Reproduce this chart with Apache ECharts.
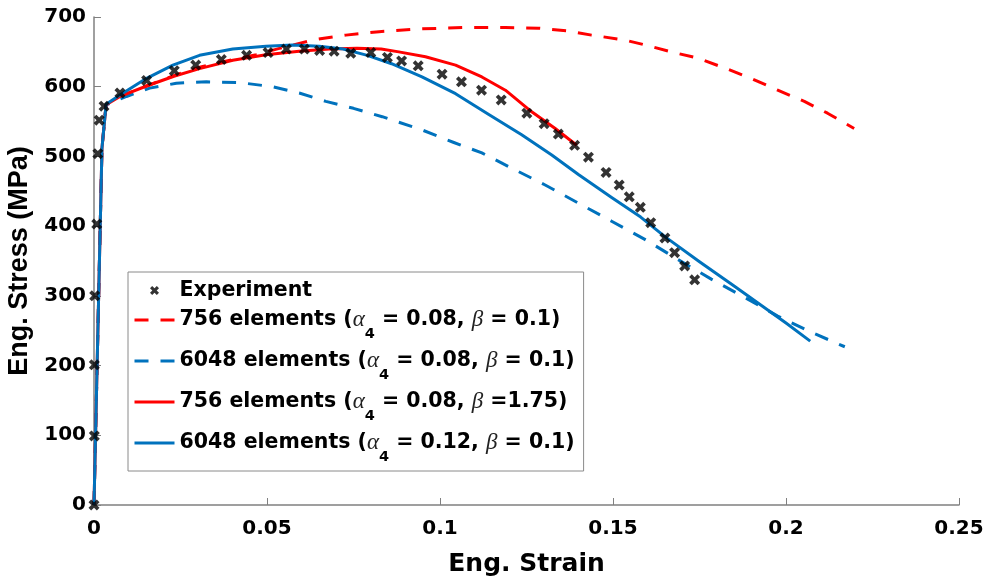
<!DOCTYPE html>
<html>
<head>
<meta charset="utf-8">
<script src="https://cdn.jsdelivr.net/npm/echarts@6/dist/echarts.min.js"></script>
<style>
  html, body { margin: 0; padding: 0; background: #fff; }
  #chart { width: 987px; height: 578px; }
</style>
</head>
<body>
<div id="chart"></div>
<script>
// Tensile test: engineering stress vs engineering strain, experiment vs FE meshes
const xTicks = [0, 0.05, 0.1, 0.15, 0.2, 0.25];
const yTicks = [0, 100, 200, 300, 400, 500, 600, 700];

const seriesNames = [
  'Experiment',
  '756 elements (α4 = 0.08, β = 0.1)',
  '6048 elements (α4 = 0.08, β = 0.1)',
  '756 elements (α4 = 0.08, β =1.75)',
  '6048 elements (α4 = 0.12, β = 0.1)'
];

// Experimental points
const expStrain = [0, 0.0001, 0.0001, 0.0002, 0.0008, 0.0011, 0.0015, 0.0029, 0.0075, 0.0152,
  0.0232, 0.0294, 0.0368, 0.0441, 0.0503, 0.0556, 0.0608, 0.0652, 0.0694, 0.0742,
  0.0800, 0.0848, 0.0889, 0.0937, 0.1006, 0.1062, 0.1120, 0.1177, 0.1251, 0.1301,
  0.1342, 0.1389, 0.1429, 0.1480, 0.1518, 0.1547, 0.1579, 0.1609, 0.1650, 0.1678,
  0.1707, 0.1736];
const expStress = [0, 99, 201, 300, 403, 504, 552, 572, 591, 609,
  623, 631, 639, 645, 649, 654, 654, 652, 651, 648,
  649, 642, 637, 630, 618, 607, 595, 581, 562, 547,
  532, 516, 499, 477, 459, 442, 427, 405, 383, 362,
  343, 323];

// 756 elements, alpha4 = 0.08, beta = 0.1 (dashed red)
const coarseLowBetaStrain = [0, 0.0023, 0.0035, 0.0075, 0.0152, 0.0231, 0.0305, 0.0401, 0.0469, 0.0536,
  0.0632, 0.0728, 0.0824, 0.0948, 0.1073, 0.1189, 0.1285, 0.1371, 0.1438, 0.1534,
  0.1592, 0.1668, 0.1745, 0.1822, 0.1899, 0.1976, 0.2053, 0.2120, 0.2197];
const coarseLowBetaStress = [0, 512, 574, 586, 601, 616, 628, 639, 646, 655,
  667, 674, 679, 683, 685, 685, 684, 680, 674, 667,
  660, 650, 641, 627, 612, 595, 579, 562, 540];

// 6048 elements, alpha4 = 0.08, beta = 0.1 (dashed blue)
const fineLowAlphaStrain = [0, 0.0023, 0.0035, 0.0094, 0.0161, 0.0238, 0.0325, 0.0420, 0.0516, 0.0593,
  0.0670, 0.0750, 0.0833, 0.0948, 0.1040, 0.1121, 0.1208, 0.1304, 0.1400, 0.1496,
  0.1592, 0.1688, 0.1784, 0.1880, 0.1976, 0.2072, 0.2170];
const fineLowAlphaStress = [0, 512, 574, 586, 598, 605, 607, 606, 600, 591,
  579, 569, 557, 538, 520, 505, 483, 459, 433, 407,
  381, 352, 324, 298, 271, 248, 227];

// 756 elements, alpha4 = 0.08, beta = 1.75 (solid red)
const coarseHighBetaStrain = [0, 0.0023, 0.0035, 0.0075, 0.0152, 0.0231, 0.0305, 0.0401, 0.0497, 0.0593,
  0.0680, 0.0760, 0.0830, 0.0881, 0.0958, 0.1045, 0.1121, 0.1189, 0.1265, 0.1333,
  0.1395];
const coarseHighBetaStress = [0, 512, 574, 586, 601, 615, 626, 638, 646, 651,
  654, 655, 654, 650, 643, 631, 614, 595, 564, 540,
  516];

// 6048 elements, alpha4 = 0.12, beta = 0.1 (solid blue)
const fineHighAlphaStrain = [0, 0.0023, 0.0035, 0.0075, 0.0152, 0.0228, 0.0305, 0.0401, 0.0497, 0.0574,
  0.0651, 0.0720, 0.0790, 0.0860, 0.0948, 0.1045, 0.1141, 0.1236, 0.1323, 0.1400,
  0.1496, 0.1580, 0.1650, 0.1750, 0.1850, 0.1924, 0.2000, 0.2070];
const fineHighAlphaStress = [0, 512, 575, 588, 612, 631, 645, 654, 658, 660,
  658, 654, 645, 633, 614, 590, 560, 531, 502, 474,
  441, 413, 385, 349, 314, 288, 261, 235];

const RED = '#FF0000';
const BLUE = '#0072BD';
const DASH = [14, 12];
const CROSS = 'path://M0,2.4 L2.4,0 L5,2.6 L7.6,0 L10,2.4 L7.4,5 L10,7.6 L7.6,10 L5,7.4 L2.4,10 L0,7.6 L2.6,5 Z';

const pairs = (xs, ys) => xs.map((x, i) => [x, ys[i]]);

function lineSeries(name, xs, ys, color, dashed) {
  return {
    name: name,
    type: 'line',
    data: pairs(xs, ys),
    symbol: 'none',
    showSymbol: false,
    smooth: false,
    lineStyle: { color: color, width: 3, type: dashed ? DASH : 'solid', cap: 'butt', join: 'round' },
    itemStyle: { color: color },
    z: 2
  };
}

// Legend entries: Greek symbols in italic serif, the "4" as a lowered subscript
function legendLabel(name) {
  const m = name.match(/^(.*\()α4(.*, )β(.*)$/);
  if (!m) return '{e|' + name + '}';
  return '{b|' + m[1] + '}{g|α}{s|4}{b|' + m[2] + '}{g|β}{b|' + m[3] + '}';
}

// Line entries show only their stroke in the legend, no marker
const legendData = seriesNames.map((n, i) =>
  i === 0 ? { name: n } : { name: n, itemStyle: { opacity: 0, borderWidth: 0 } });

const labelFont = 'DejaVu Sans';
const chart = echarts.init(document.getElementById('chart'), null, { renderer: 'canvas' });

chart.setOption({
  animation: false,
  backgroundColor: '#fff',
  grid: { left: 94, right: 28, top: 17, bottom: 73, containLabel: false, outerBoundsMode: 'none' },
  xAxis: {
    type: 'value',
    min: xTicks[0],
    max: xTicks[xTicks.length - 1],
    interval: xTicks[1] - xTicks[0],
    name: 'Eng. Strain',
    nameLocation: 'middle',
    nameGap: 47,
    nameTextStyle: { fontFamily: labelFont, fontWeight: 'bold', fontSize: 25, color: '#000' },
    axisLine: { show: true, lineStyle: { color: '#808080', width: 1.5 } },
    axisTick: { show: true, inside: true, length: 7, lineStyle: { color: '#808080', width: 1 } },
    axisLabel: { margin: 14, fontFamily: labelFont, fontWeight: 'bold', fontSize: 20, color: '#000' },
    splitLine: { show: false }
  },
  yAxis: {
    type: 'value',
    min: yTicks[0],
    max: yTicks[yTicks.length - 1],
    interval: yTicks[1] - yTicks[0],
    name: 'Eng. Stress (MPa)',
    nameLocation: 'middle',
    nameGap: 57,
    nameRotate: 90,
    nameTextStyle: { fontFamily: 'Liberation Sans', fontWeight: 'bold', fontSize: 27, color: '#000' },
    axisLine: { show: true, lineStyle: { color: '#808080', width: 1.5 } },
    axisTick: { show: true, inside: true, length: 7, lineStyle: { color: '#808080', width: 1 } },
    axisLabel: { margin: 8, fontFamily: labelFont, fontWeight: 'bold', fontSize: 20, color: '#000' },
    splitLine: { show: false }
  },
  legend: {
    orient: 'vertical',
    left: 128,
    top: 272,
    padding: [8, 9, 6, 5],
    itemWidth: 40,
    itemHeight: 9,
    itemGap: -3,
    borderColor: '#8a8a8a',
    borderWidth: 1,
    backgroundColor: '#fff',
    data: legendData,
    lineStyle: { width: 3 },
    formatter: legendLabel,
    textStyle: {
      fontFamily: labelFont, fontWeight: 'bold', fontSize: 20.5, color: '#000',
      rich: {
        e: { fontFamily: labelFont, fontWeight: 'bold', fontSize: 20.5, lineHeight: 30, color: '#000' },
        b: { fontFamily: labelFont, fontWeight: 'bold', fontSize: 20.5, lineHeight: 43, color: '#000' },
        g: { fontFamily: 'Liberation Serif', fontStyle: 'italic', fontWeight: 'normal', fontSize: 23, lineHeight: 43, color: '#222' },
        s: { fontFamily: labelFont, fontWeight: 'bold', fontSize: 14.5, lineHeight: 14, padding: [29, 0, 0, 0], color: '#000' }
      }
    }
  },
  series: [
    {
      name: seriesNames[0],
      type: 'scatter',
      data: pairs(expStrain, expStress),
      symbol: CROSS,
      symbolSize: 11,
      itemStyle: { color: '#000' },
      z: 5
    },
    lineSeries(seriesNames[1], coarseLowBetaStrain, coarseLowBetaStress, RED, true),
    lineSeries(seriesNames[2], fineLowAlphaStrain, fineLowAlphaStress, BLUE, true),
    lineSeries(seriesNames[3], coarseHighBetaStrain, coarseHighBetaStress, RED, false),
    lineSeries(seriesNames[4], fineHighAlphaStrain, fineHighAlphaStress, BLUE, false)
  ]
});
</script>
</body>
</html>
